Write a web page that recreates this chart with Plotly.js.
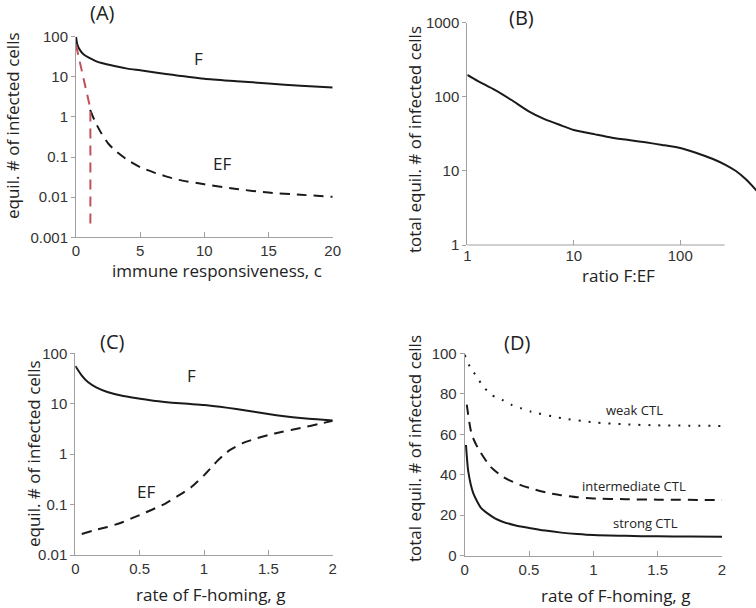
<!DOCTYPE html>
<html>
<head>
<meta charset="utf-8">
<script src="https://cdn.plot.ly/plotly-3.0.1.min.js"></script>
<style>html,body{margin:0;padding:0;background:#fff}#chart{width:756px;height:608px}</style>
</head>
<body>
<div id="chart"></div>
<script>
// Panel A: equilibrium vs immune responsiveness c
const aF_c = [0, 0.1, 0.3, 0.6, 1, 1.5, 2, 3, 4, 5, 7, 10, 12.5, 15, 17.5, 20];
const aF_y = [100, 65, 47, 36, 30, 25, 22, 18.5, 16, 14.5, 11.8, 9.0, 7.8, 6.8, 6.0, 5.4];
const aEF_c = [1.1, 1.5, 2, 2.5, 3, 4, 5, 6, 7, 8, 10, 12.5, 15, 17.5, 20];
const aEF_y = [1.5, 0.75, 0.38, 0.22, 0.15, 0.085, 0.056, 0.042, 0.033, 0.027, 0.021, 0.016, 0.013, 0.0115, 0.0102];
const aRed_c = [0, 0.3, 0.6, 0.9, 1.12, 1.12];
const aRed_y = [62, 24, 9, 3.5, 1.6, 0.0015];
const aTicksX = [0, 5, 10, 15, 20];
const aTicksY = [0.001, 0.01, 0.1, 1, 10, 100];
const aTickText = ["0.001", "0.01", "0.1", "1", "10", "100"];

// Panel B: total vs ratio F:EF
const bRatio = [1, 1.26, 1.81, 2.6, 3.74, 5.37, 7.71, 10, 15.9, 22.8, 32.8, 47.1, 67.6, 102, 140, 200, 268, 333, 413, 532];
const bTotal = [197, 163, 124, 90.5, 64.3, 49.6, 40.8, 35.6, 31.1, 28.1, 26.1, 24.3, 22.4, 20.2, 17.6, 14.6, 12.0, 9.97, 7.7, 5.25];
const bTicksX = [1, 10, 100];
const bTicksY = [1, 10, 100, 1000];

// Panel C: equilibrium vs F-homing rate g
const cF_g = [0, 0.049, 0.098, 0.166, 0.249, 0.373, 0.5, 0.624, 0.751, 0.876, 1.0, 1.124, 1.251, 1.376, 1.5, 1.624, 1.751, 1.876, 2.0];
const cF_y = [56, 36.6, 26.9, 20.8, 17.1, 14.2, 12.6, 11.3, 10.5, 9.95, 9.45, 8.7, 7.85, 7.0, 6.25, 5.65, 5.2, 4.9, 4.67];
const cEF_g = [0.05, 0.15, 0.25, 0.35, 0.45, 0.5, 0.6, 0.7, 0.8, 0.9, 1.0, 1.05, 1.1, 1.15, 1.2, 1.3, 1.4, 1.5, 1.6, 1.75, 1.9, 2.0];
const cEF_y = [0.026, 0.031, 0.036, 0.043, 0.055, 0.062, 0.08, 0.105, 0.15, 0.22, 0.38, 0.52, 0.72, 0.95, 1.2, 1.65, 2.02, 2.4, 2.75, 3.3, 4.0, 4.6];
const cTicksX = [0, 0.5, 1, 1.5, 2];
const cTicksY = [0.01, 0.1, 1, 10, 100];
const cTickText = ["0.01", "0.1", "1", "10", "100"];

// Panel D: total vs F-homing rate g for CTL strengths
const dWeak_g = [0, 0.04, 0.093, 0.145, 0.21, 0.29, 0.365, 0.44, 0.515, 0.75, 1.0, 1.25, 1.5, 2.0];
const dWeak_y = [99.2, 93.4, 88.5, 83.5, 79.4, 77, 74.5, 72.8, 71.2, 68, 65.9, 64.9, 64.4, 64.1];
const dInt_g = [0.016, 0.054, 0.1, 0.2, 0.3, 0.43, 0.55, 0.65, 0.75, 0.875, 1.0, 1.25, 1.5, 2.0];
const dInt_y = [74.6, 60, 53.5, 44, 38.8, 35, 32.6, 31.0, 29.9, 28.9, 28.3, 27.9, 27.7, 27.5];
const dStrong_g = [0.01, 0.028, 0.067, 0.13, 0.235, 0.39, 0.5, 0.625, 0.75, 0.875, 1.0, 1.25, 1.5, 1.75, 2.0];
const dStrong_y = [54.7, 41.5, 30.8, 23.4, 18.5, 15.0, 13.7, 12.4, 11.4, 10.7, 10.2, 9.8, 9.55, 9.45, 9.4];
const dTicksX = [0, 0.5, 1, 1.5, 2];
const dTicksY = [0, 20, 40, 60, 80, 100];

const W = 756, H = 608;
const px = x => x / W;
const py = y => 1 - y / H;

const blk = '#1a1a1a';
const sp = {shape: 'spline', smoothing: 0.6};
const L = (o) => Object.assign({color: blk, width: 2}, sp, o || {});
const traces = [
  {x: aF_c, y: aF_y, xaxis: 'x', yaxis: 'y', mode: 'lines', line: L()},
  {x: aEF_c, y: aEF_y, xaxis: 'x', yaxis: 'y', mode: 'lines', line: L({dash: '10px,7px'})},
  {x: aRed_c, y: aRed_y, xaxis: 'x', yaxis: 'y', mode: 'lines', line: {color: '#c0505a', width: 2, dash: '10px,7px'}},
  {x: bRatio, y: bTotal, xaxis: 'x2', yaxis: 'y2', mode: 'lines', line: L()},
  {x: cF_g, y: cF_y, xaxis: 'x3', yaxis: 'y3', mode: 'lines', line: L()},
  {x: cEF_g, y: cEF_y, xaxis: 'x3', yaxis: 'y3', mode: 'lines', line: L({dash: '10px,7px'})},
  {x: dWeak_g, y: dWeak_y, xaxis: 'x4', yaxis: 'y4', mode: 'lines', line: L({dash: '2px,8px'})},
  {x: dInt_g, y: dInt_y, xaxis: 'x4', yaxis: 'y4', mode: 'lines', line: L({dash: '10px,7px'})},
  {x: dStrong_g, y: dStrong_y, xaxis: 'x4', yaxis: 'y4', mode: 'lines', line: L()}
];

const axCol = '#a0a0a0';
const tickFont = {family: 'Liberation Sans, Arial, sans-serif', size: 15, color: '#333'};
const baseX = {showgrid: false, zeroline: false, showline: true, linecolor: axCol, linewidth: 1,
  ticks: 'inside', ticklen: 5, tickcolor: axCol, tickfont: tickFont, fixedrange: true};
const baseY = {showgrid: false, zeroline: false, showline: true, linecolor: axCol, linewidth: 1,
  ticks: 'outside', ticklen: 4, tickcolor: axCol, tickfont: tickFont, fixedrange: true};

const layout = {
  width: W, height: H,
  margin: {l: 0, r: 0, t: 0, b: 0},
  paper_bgcolor: '#fff', plot_bgcolor: '#fff',
  showlegend: false,
  xaxis: Object.assign({}, baseX, {domain: [px(76), px(332.7)], range: [0, 20], tickvals: aTicksX, anchor: 'y'}),
  yaxis: Object.assign({}, baseY, {domain: [py(237.3), py(36.7)], type: 'log', range: [-3, 2], tickvals: aTicksY, ticktext: aTickText, anchor: 'x'}),
  xaxis2: Object.assign({}, baseX, {domain: [px(467.3), 1], type: 'log', range: [0, 2.711], tickvals: bTicksX, ticktext: bTicksX.map(String), showline: false, anchor: 'y2'}),
  yaxis2: Object.assign({}, baseY, {domain: [py(245), py(22.7)], type: 'log', range: [0, 3], tickvals: bTicksY, ticktext: bTicksY.map(String), anchor: 'x2'}),
  xaxis3: Object.assign({}, baseX, {domain: [px(75.3), px(332.7)], range: [0, 2], tickvals: cTicksX, anchor: 'y3'}),
  yaxis3: Object.assign({}, baseY, {domain: [py(555), py(353.3)], type: 'log', range: [-2, 2], tickvals: cTicksY, ticktext: cTickText, anchor: 'x3'}),
  xaxis4: Object.assign({}, baseX, {domain: [px(464.7), px(722)], range: [0, 2], tickvals: dTicksX, anchor: 'y4'}),
  yaxis4: Object.assign({}, baseY, {domain: [py(555.7), py(353.3)], range: [0, 100], tickvals: dTicksY, anchor: 'x4'}),
  shapes: [
    {type: 'line', xref: 'x2 domain', yref: 'y2 domain', x0: 0, x1: (724.7 - 467.3) / (756 - 467.3), y0: 0, y1: 0,
     line: {color: axCol, width: 1}}
  ],
  annotations: []
};

const fam = 'Open Sans, Noto Sans, sans-serif';
const titleFont = {family: fam, size: 17, color: '#222'};
const panelFont = {family: fam, size: 20, color: '#222'};
const lblFont = {family: fam, size: 17, color: '#222'};
const smallFont = {family: fam, size: 13, color: '#222'};
function ann(text, x, y, font, angle) {
  layout.annotations.push({text: text, xref: 'paper', yref: 'paper', x: px(x), y: py(y),
    xanchor: 'center', yanchor: 'middle', showarrow: false, font: font, textangle: angle || 0});
}
ann('(A)', 102, 12, panelFont);
ann('F', 198, 58, lblFont);
ann('EF', 222, 163, lblFont);
ann('equil. # of infected cells', 12, 126, titleFont, -90);
ann('immune responsiveness, c', 217, 270, titleFont);
ann('(B)', 521, 17, panelFont);
ann('total equil. # of infected cells', 414, 140, titleFont, -90);
ann('ratio F:EF', 618, 275, titleFont);
ann('(C)', 112, 341, panelFont);
ann('F', 191, 375, lblFont);
ann('EF', 146, 491, lblFont);
ann('equil. # of infected cells', 33, 454, titleFont, -90);
ann('rate of F-homing, g', 210, 594, titleFont);
ann('(D)', 517, 342, panelFont);
ann('weak CTL', 634, 410, smallFont);
ann('intermediate CTL', 634, 486, smallFont);
ann('strong CTL', 645, 523, smallFont);
ann('total equil. # of infected cells', 414, 449, titleFont, -90);
ann('rate of F-homing, g', 615, 595, titleFont);

Plotly.newPlot('chart', traces, layout, {displayModeBar: false, staticPlot: true});
</script>
</body>
</html>
